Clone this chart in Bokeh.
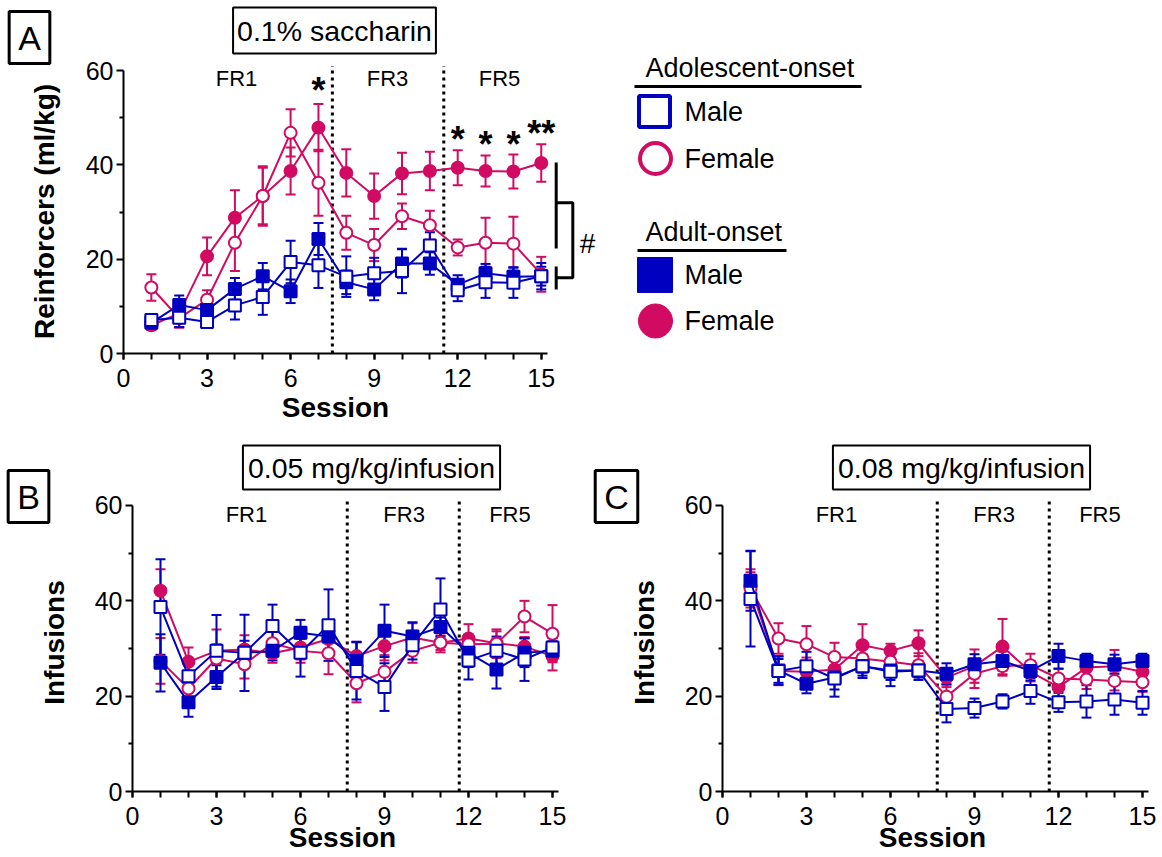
from bokeh.plotting import figure
from bokeh.models import Range1d, FixedTicker, Label, Whisker, TeeHead, ColumnDataSource
from bokeh.layouts import column, row
from bokeh.embed import file_html
from bokeh.resources import INLINE

FONT = "Liberation Sans"
BLUE = "#0000c0"
PINK = "#d10a62"

# ---------------- data ----------------
sessions = list(range(1, 16))
x_ticks = [0, 3, 6, 9, 12, 15]
y_ticks = [0, 20, 40, 60]

# Panel A: 0.1% saccharin, reinforcers (ml/kg)
A_adol_male = [7.1, 7.6, 6.7, 10.2, 12.0, 19.4, 18.7, 16.3, 17.0, 17.5, 22.9, 13.4, 15.1, 15.0, 16.4]
A_adol_male_sem = [1.2, 2.0, 1.0, 3.0, 3.8, 4.5, 4.8, 4.3, 3.3, 4.7, 2.8, 2.3, 3.3, 3.2, 2.8]
A_adult_male = [6.5, 10.3, 9.2, 13.7, 16.4, 13.2, 24.3, 15.1, 13.6, 19.1, 19.1, 14.6, 17.0, 16.3, 16.4]
A_adult_male_sem = [1.0, 2.0, 1.5, 2.3, 2.8, 2.5, 3.4, 2.5, 2.3, 3.0, 2.4, 2.0, 2.0, 2.0, 2.0]
A_adol_female = [14.0, 7.5, 11.4, 23.5, 33.4, 46.8, 36.2, 25.6, 23.0, 29.1, 27.2, 22.5, 23.5, 23.3, 16.8]
A_adol_female_sem = [2.8, 2.0, 2.0, 6.0, 6.0, 5.0, 7.0, 3.6, 3.4, 2.7, 3.1, 1.7, 5.3, 5.7, 3.7]
A_adult_female = [6.0, 8.5, 20.6, 28.8, 33.4, 38.7, 47.9, 38.3, 33.4, 38.2, 38.7, 39.4, 38.7, 38.6, 40.4]
A_adult_female_sem = [1.0, 3.0, 4.0, 5.8, 6.3, 5.0, 5.0, 5.0, 4.8, 4.4, 4.1, 3.7, 3.3, 3.6, 4.0]
A_breaks = [7.5, 11.5]
A_star_sessions = [7, 12, 13, 14, 15]
A_star_y = [55.8, 45.4, 44.3, 44.3, 46.7]
A_star_texts = ["*", "*", "*", "*", "**"]

# Panel B: 0.05 mg/kg/infusion
B_adol_male = [38.7, 24.2, 29.5, 29.1, 34.7, 29.1, 34.9, 25.3, 21.9, 30.7, 38.2, 27.5, 29.5, 27.7, 30.2]
B_adol_male_sem = [10.0, 2.5, 7.5, 8.0, 4.5, 5.0, 7.5, 6.0, 5.0, 3.0, 6.5, 4.0, 3.0, 4.5, 2.0]
B_adult_male = [27.0, 18.7, 24.0, 29.1, 29.5, 33.3, 32.5, 27.4, 33.7, 32.5, 34.5, 29.1, 25.6, 29.1, 29.5]
B_adult_male_sem = [6.0, 3.0, 2.5, 2.5, 2.0, 2.7, 3.0, 4.0, 5.5, 3.0, 2.0, 3.0, 4.0, 3.0, 2.0]
B_adol_female = [27.4, 21.6, 27.9, 26.7, 31.1, 29.5, 29.0, 22.7, 25.1, 29.5, 31.2, 30.9, 31.0, 36.7, 33.1]
B_adol_female_sem = [4.8, 2.5, 3.0, 3.0, 3.0, 2.5, 4.4, 4.0, 3.5, 2.5, 1.5, 2.0, 3.0, 3.3, 6.0]
B_adult_female = [42.1, 27.2, 29.5, 29.8, 29.0, 30.2, 32.0, 28.4, 30.5, 32.3, 31.2, 32.1, 31.1, 30.4, 28.4]
B_adult_female_sem = [4.5, 3.0, 4.5, 3.0, 2.0, 2.5, 3.0, 3.0, 3.0, 3.0, 2.0, 3.0, 2.5, 2.0, 3.0]

# Panel C: 0.08 mg/kg/infusion
C_adol_male = [40.4, 25.3, 26.3, 23.7, 26.3, 25.1, 25.4, 17.3, 17.5, 18.9, 21.1, 18.7, 18.9, 19.3, 18.6]
C_adol_male_sem = [10.0, 2.5, 3.0, 3.8, 2.5, 3.0, 2.0, 2.8, 2.0, 1.5, 2.7, 2.0, 3.4, 3.2, 2.5]
C_adult_male = [44.2, 25.4, 22.6, 23.9, 26.3, 25.4, 25.4, 24.7, 26.7, 27.4, 25.3, 28.4, 27.4, 26.7, 27.4]
C_adult_male_sem = [6.3, 3.0, 2.0, 2.5, 2.0, 2.0, 1.5, 2.2, 2.1, 2.0, 2.0, 2.6, 1.5, 2.0, 1.5]
C_adol_female = [42.6, 32.1, 30.9, 28.2, 27.9, 27.2, 26.5, 19.9, 24.7, 26.3, 26.5, 23.7, 23.5, 23.2, 22.9]
C_adol_female_sem = [4.0, 3.2, 3.8, 3.0, 3.0, 2.0, 2.5, 2.5, 3.0, 2.0, 2.4, 2.0, 2.0, 2.0, 2.0]
C_adult_female = [43.0, 25.3, 25.1, 25.6, 30.7, 29.5, 31.1, 23.9, 26.3, 30.4, 25.1, 21.9, 26.0, 26.3, 25.1]
C_adult_female_sem = [3.0, 3.0, 3.0, 2.5, 4.4, 1.5, 2.7, 2.0, 3.5, 5.8, 2.0, 2.0, 2.0, 3.4, 2.0]
BC_breaks = [7.67, 11.67]

phase_labels = ["FR1", "FR3", "FR5"]


# ---------------- helpers ----------------
class Mapper:
    """Maps picture pixel positions to data coordinates of one panel."""
    def __init__(self, x0, kx, y0, ky):
        self.x0, self.kx, self.y0, self.ky = x0, kx, y0, ky

    def x(self, px):
        return (px - self.x0) / self.kx

    def y(self, py):
        return (self.y0 - py) / self.ky


def make_fig(m, left, right, top, bottom):
    p = figure(x_range=Range1d(m.x(left), m.x(right)), y_range=Range1d(m.y(bottom), m.y(top)),
               frame_width=right - left, frame_height=bottom - top,
               min_border_left=0, min_border_right=0, min_border_top=0, min_border_bottom=0,
               toolbar_location=None, output_backend="svg")
    p.outline_line_color = None
    p.grid.visible = False
    p.xaxis.fixed_location = 0
    p.yaxis.fixed_location = 0
    p.xaxis.ticker = FixedTicker(ticks=x_ticks, minor_ticks=list(range(0, 16)))
    p.yaxis.ticker = FixedTicker(ticks=y_ticks, minor_ticks=[10, 30, 50])
    p.xaxis.bounds = (0, 15.23)
    p.yaxis.bounds = (0, 60)
    for ax in (p.xaxis[0], p.yaxis[0]):
        ax.axis_line_width = 2
        ax.axis_line_color = "black"
        ax.major_tick_line_width = 2
        ax.minor_tick_line_width = 2
        ax.major_tick_line_color = "black"
        ax.minor_tick_line_color = "black"
        ax.major_tick_in = 0
        ax.minor_tick_in = 0
        ax.major_label_text_font = FONT
        ax.major_label_text_font_size = "25px"
        ax.major_label_text_color = "black"
    p.xaxis.major_tick_out = 6
    p.xaxis.minor_tick_out = 6
    p.yaxis.major_tick_out = 7
    p.yaxis.minor_tick_out = 4
    p.xaxis.major_label_standoff = 9
    p.yaxis.major_label_standoff = 3
    return p


def add_series(p, means, sems, marker, color, filled):
    src = ColumnDataSource(dict(x=sessions, y=means,
                                upper=[m + s for m, s in zip(means, sems)],
                                lower=[m - s for m, s in zip(means, sems)]))
    w = Whisker(source=src, base="x", upper="upper", lower="lower",
                line_color=color, line_width=2, level="underlay",
                upper_head=TeeHead(size=10, line_color=color, line_width=2),
                lower_head=TeeHead(size=10, line_color=color, line_width=2))
    p.add_layout(w)
    p.line("x", "y", source=src, line_color=color, line_width=2)
    p.scatter("x", "y", source=src, marker=marker, size=12, line_color=color,
              line_width=2, fill_color=color if filled else "white")


def lab(p, x, y, text, size, bold=False, align="center", baseline="middle", angle=0,
        border=None, pad=0):
    l = Label(x=x, y=y, text=text, text_font=FONT, text_font_size=size,
              text_font_style="bold" if bold else "normal", text_align=align,
              text_baseline=baseline, angle=angle, angle_units="deg", text_color="black")
    if border:
        l.border_line_color = "black"
        l.border_line_width = border
        l.background_fill_color = "white"
        l.padding = pad
    p.add_layout(l)


def phase_lines(p, breaks, top):
    p.segment(x0=breaks, y0=[0] * len(breaks), x1=breaks, y1=[top] * len(breaks),
              line_color="black", line_width=3, line_dash="3 4", line_cap="butt")


def draw_groups(p, am, am_s, adm, adm_s, af, af_s, adf, adf_s):
    add_series(p, adf, adf_s, "circle", PINK, True)
    add_series(p, af, af_s, "circle", PINK, False)
    add_series(p, adm, adm_s, "square", BLUE, True)
    add_series(p, am, am_s, "square", BLUE, False)


# ---------------- Panel A ----------------
mA = Mapper(124, 27.85, 354, 4.715)
pA = make_fig(mA, 1, 1161, 1, 430)
phase_lines(pA, A_breaks, 61)
draw_groups(pA, A_adol_male, A_adol_male_sem, A_adult_male, A_adult_male_sem,
            A_adol_female, A_adol_female_sem, A_adult_female, A_adult_female_sem)

for t, px in zip(phase_labels, [237, 388, 500]):
    lab(pA, mA.x(px), mA.y(79), t, "22px")
for s, sy, t in zip(A_star_sessions, A_star_y, A_star_texts):
    lab(pA, s, sy, t, "36px", bold=True, baseline="alphabetic")

# significance bracket
pA.segment(x0=[mA.x(556.7)] * 2, y0=[mA.y(163), mA.y(267)], x1=[mA.x(556.7)] * 2, y1=[mA.y(249), mA.y(290)],
           line_color="black", line_width=3)
pA.line([mA.x(556.7), mA.x(573.3), mA.x(573.3), mA.x(556.7)],
        [mA.y(203.3), mA.y(203.3), mA.y(278.3), mA.y(278.3)], line_color="black", line_width=3)
lab(pA, mA.x(588), mA.y(244), "#", "28px", baseline="alphabetic")

lab(pA, mA.x(335), mA.y(31), "0.1% saccharin", "28.5px", border=2, pad=(4, 7))
lab(pA, mA.x(30), mA.y(38), "A", "34px", border=3, pad=(9, 7))
lab(pA, mA.x(45), mA.y(212), "Reinforcers (ml/kg)", "28px", bold=True, angle=90)
lab(pA, mA.x(336), mA.y(408), "Session", "28px", bold=True)

# legend
pA.segment(x0=[mA.x(635), mA.x(638)], y0=[mA.y(87), mA.y(251)], x1=[mA.x(862), mA.x(787)], y1=[mA.y(87), mA.y(251)],
           line_color="black", line_width=3)
lab(pA, mA.x(646), mA.y(68), "Adolescent-onset", "27px", align="left")
lab(pA, mA.x(646), mA.y(232), "Adult-onset", "27px", align="left")
pA.scatter([mA.x(655)], [mA.y(112)], marker="square", size=31, line_color=BLUE, line_width=4, fill_color="white")
pA.scatter([mA.x(656)], [mA.y(159)], marker="circle", size=31, line_color=PINK, line_width=4, fill_color="white")
pA.scatter([mA.x(655.5)], [mA.y(275.5)], marker="square", size=35, line_color=BLUE, line_width=1, fill_color=BLUE)
pA.scatter([mA.x(656)], [mA.y(321.5)], marker="circle", size=34, line_color=PINK, line_width=1, fill_color=PINK)
for t, py in zip(["Male", "Female", "Male", "Female"], [112, 159, 275.5, 321.5]):
    lab(pA, mA.x(685), mA.y(py), t, "27px", align="left")


# ---------------- Panels B & C ----------------
def panel_bc(x0, left, right, data, title, letter, letter_px):
    m = Mapper(x0, 28.0, 792, 4.767)
    p = make_fig(m, left, right, 430, 856)
    phase_lines(p, BC_breaks, 61)
    draw_groups(p, *data)
    for t, dx in zip(phase_labels, [4.07, 9.7, 13.48]):
        lab(p, dx, m.y(515), t, "22px")
    lab(p, m.x(x0 + 239), m.y(468), title, "28.5px", border=2, pad=(5, 6))
    lab(p, m.x(letter_px), m.y(497), letter, "34px", border=3, pad=(9, 7))
    lab(p, m.x(x0 - 78), m.y(643), "Infusions", "28px", bold=True, angle=90)
    lab(p, m.x(x0 + 210), m.y(838), "Session", "28px", bold=True)
    return p


pB = panel_bc(133, 1, 590, (B_adol_male, B_adol_male_sem, B_adult_male, B_adult_male_sem,
                            B_adol_female, B_adol_female_sem, B_adult_female, B_adult_female_sem),
              "0.05 mg/kg/infusion", "B", 29)
pC = panel_bc(723, 590, 1161, (C_adol_male, C_adol_male_sem, C_adult_male, C_adult_male_sem,
                               C_adol_female, C_adol_female_sem, C_adult_female, C_adult_female_sem),
              "0.08 mg/kg/infusion", "C", 617)

layout = column(pA, row(pB, pC, spacing=0), spacing=0)
open("out.html", "w").write(file_html(layout, INLINE))
